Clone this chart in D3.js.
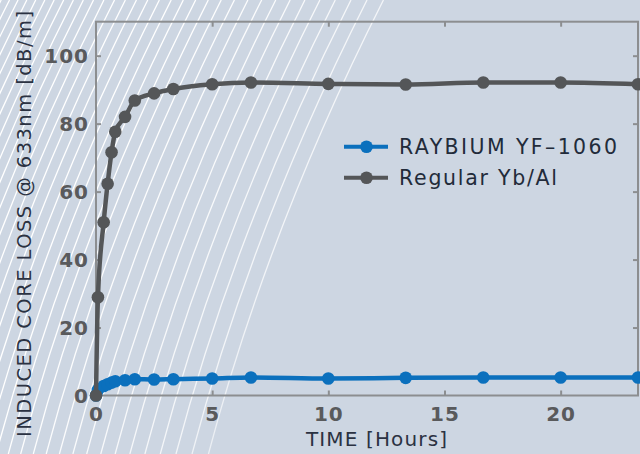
<!DOCTYPE html>
<html>
<head>
<meta charset="utf-8">
<script src="https://cdn.jsdelivr.net/npm/d3@7"></script>
<style>
html,body{margin:0;padding:0;background:#cdd6e2;}
svg{display:block;}
</style>
</head>
<body>
<svg id="chart" width="640" height="454"></svg>
<script>
// ---- data ----
const hours   = [0, 0.083, 0.33, 0.5, 0.67, 0.83, 1.25, 1.67, 2.5, 3.33, 5, 6.67, 10, 13.33, 16.67, 20, 23.33];
const regular = [0, 28.9, 51, 62.3, 71.6, 77.6, 82, 86.8, 88.9, 90.2, 91.6, 92.1, 91.7, 91.5, 92.1, 92.1, 91.6];
const raybium = [0, 1.6, 2.8, 3.3, 3.8, 4.2, 4.5, 4.8, 4.7, 4.8, 5.0, 5.3, 5.0, 5.2, 5.3, 5.3, 5.3];
const xTicks = [0, 5, 10, 15, 20];
const yTicks = [0, 20, 40, 60, 80, 100];
const seriesNames = ["RAYBIUM YF\u20131060", "Regular Yb/Al"];
const xTitle = "TIME [Hours]";
const yTitle = "INDUCED CORE LOSS @ 633nm [dB/m]";

const W = 640, H = 454;
const m = {left: 96, right: 638, top: 21.7, bottom: 395.5};
const svg = d3.select("#chart");

// ---- background decoration ----
svg.append("rect").attr("width", W).attr("height", H).attr("fill", "#cdd6e2");
const defs = svg.append("defs");
const grad = defs.append("linearGradient").attr("id", "fade")
  .attr("gradientUnits", "userSpaceOnUse")
  .attr("x1", 140).attr("y1", 130).attr("x2", 420).attr("y2", 260);
grad.append("stop").attr("offset", 0).attr("stop-color", "#ffffff").attr("stop-opacity", 1);
grad.append("stop").attr("offset", 0.55).attr("stop-color", "#ffffff").attr("stop-opacity", 0.75);
grad.append("stop").attr("offset", 1).attr("stop-color", "#ffffff").attr("stop-opacity", 0);
const deco = svg.append("g");
let x0 = -190;
while (x0 < 215) {
  deco.append("path")
    .attr("d", `M${x0},${H} Q${x0 + 60},${H / 2} ${x0 + 175},0`)
    .attr("fill", "none").attr("stroke", "url(#fade)").attr("stroke-width", 1.3);
  x0 += 8 + 0.022 * (x0 + 190);
}

// ---- scales ----
const x = d3.scaleLinear().domain([0, 23.33]).range([m.left, m.right]);
const y = d3.scaleLinear().domain([0, 110]).range([m.bottom, m.top]);

const axisColor = "#8c8e90";
const tickLen = 5;

// frame
svg.append("rect")
  .attr("x", m.left).attr("y", m.top)
  .attr("width", m.right - m.left).attr("height", m.bottom - m.top)
  .attr("fill", "none").attr("stroke", axisColor).attr("stroke-width", 2);

// axes using d3 axis generators (inner ticks)
const fontTick = "'DejaVu Sans', sans-serif";
const bottomAxis = svg.append("g").attr("transform", `translate(0,${m.bottom})`)
  .call(d3.axisTop(x).tickValues(xTicks).tickSize(tickLen).tickFormat(""));
const topAxis = svg.append("g").attr("transform", `translate(0,${m.top})`)
  .call(d3.axisBottom(x).tickValues(xTicks.filter(d => d > 0)).tickSize(tickLen).tickFormat(""));
const leftAxis = svg.append("g").attr("transform", `translate(${m.left},0)`)
  .call(d3.axisRight(y).tickValues(yTicks.filter(d => d > 0)).tickSize(tickLen).tickFormat(""));
const rightAxis = svg.append("g").attr("transform", `translate(${m.right},0)`)
  .call(d3.axisLeft(y).tickValues(yTicks.filter(d => d > 0)).tickSize(tickLen).tickFormat(""));
[bottomAxis, topAxis, leftAxis, rightAxis].forEach(g => {
  g.select(".domain").remove();
  g.selectAll(".tick line").attr("stroke", axisColor).attr("stroke-width", 2);
});

// tick labels
svg.append("g").selectAll("text").data(xTicks).join("text")
  .attr("x", d => x(d) + 0.5).attr("y", 421)
  .attr("text-anchor", "middle")
  .attr("font-family", fontTick).attr("font-weight", "bold").attr("font-size", 20)
  .attr("letter-spacing", 1)
  .attr("fill", "#595a5c").text(d => d);
svg.append("g").selectAll("text").data(yTicks).join("text")
  .attr("x", 89).attr("y", d => y(d)).attr("dy", "0.36em")
  .attr("text-anchor", "end")
  .attr("font-family", fontTick).attr("font-weight", "bold").attr("font-size", 20)
  .attr("letter-spacing", 1)
  .attr("fill", "#595a5c").text(d => d);

// titles
svg.append("text")
  .attr("x", 306).attr("y", 446)
  .attr("font-family", "'DejaVu Sans', sans-serif").attr("font-size", 20)
  .attr("textLength", 141).attr("lengthAdjust", "spacing")
  .attr("fill", "#2b3242").text(xTitle);
svg.append("text")
  .attr("transform", "translate(31,437) rotate(-90)")
  .attr("font-family", "'DejaVu Sans', sans-serif").attr("font-size", 19.5)
  .attr("textLength", 426).attr("lengthAdjust", "spacing")
  .attr("fill", "#2b3242").text(yTitle);

// ---- series ----
const blue = "#0b70bd", gray = "#545658";
const line = d3.line().x((d, i) => x(hours[i])).y(d => y(d)).curve(d3.curveMonotoneX);

function drawSeries(vals, color, lw) {
  const g = svg.append("g");
  g.append("path").datum(vals).attr("d", line)
    .attr("fill", "none").attr("stroke", color).attr("stroke-width", lw)
    .attr("stroke-linejoin", "round").attr("stroke-linecap", "round");
  g.selectAll("circle").data(vals).join("circle")
    .attr("cx", (d, i) => x(hours[i])).attr("cy", d => y(d)).attr("r", 6.3)
    .attr("fill", color);
}
drawSeries(raybium, blue, 4.5);
drawSeries(regular, gray, 4.5);

// ---- legend ----
const legend = svg.append("g");
const legColors = [blue, gray];
const legY = [146.7, 177.7];
const legLen = [218, 158];
seriesNames.forEach((name, i) => {
  legend.append("line").attr("x1", 344).attr("x2", 388).attr("y1", legY[i]).attr("y2", legY[i])
    .attr("stroke", legColors[i]).attr("stroke-width", 4);
  legend.append("circle").attr("cx", 366.5).attr("cy", legY[i]).attr("r", 6.3).attr("fill", legColors[i]);
  legend.append("text").attr("x", 399).attr("y", legY[i]).attr("dy", "0.36em")
    .attr("font-family", "'DejaVu Sans', sans-serif").attr("font-size", 20.5)
    .attr("textLength", legLen[i]).attr("lengthAdjust", "spacing")
    .attr("fill", "#222b3a").text(name);
});
</script>
</body>
</html>
